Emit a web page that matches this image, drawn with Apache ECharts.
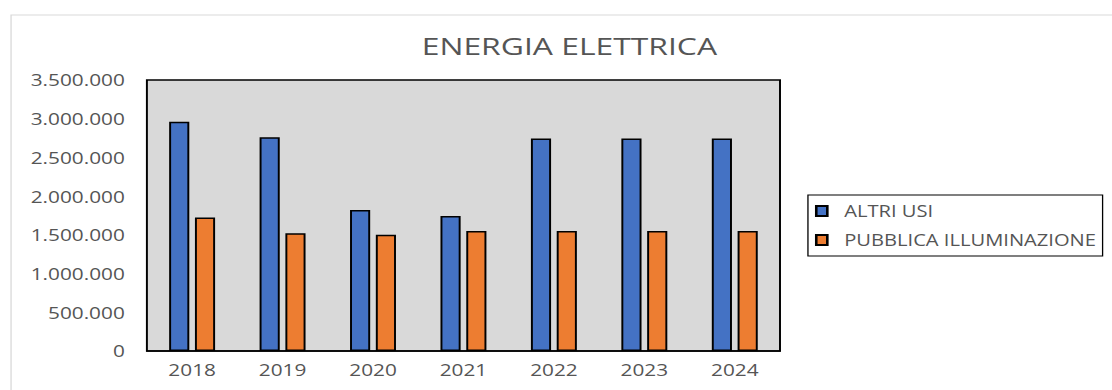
<!DOCTYPE html>
<html>
<head>
<meta charset="utf-8">
<script src="https://cdn.jsdelivr.net/npm/echarts@6/dist/echarts.min.js"></script>
<style>
  html, body { margin: 0; padding: 0; background: #fff; overflow: hidden; }
  #wrap { width: 1112px; height: 390px; overflow: hidden; position: relative; }
  /* the chart is laid out narrower and widened horizontally */
  #chart { width: 856px; height: 390px; transform: scaleX(1.3); transform-origin: 0 0; }
</style>
</head>
<body>
<div id="wrap"><div id="chart"></div></div>
<script>
const years = ['2018', '2019', '2020', '2021', '2022', '2023', '2024'];
const altriUsi = [2960000, 2760000, 1820000, 1745000, 2745000, 2745000, 2745000];
const pubblicaIlluminazione = [1725000, 1520000, 1500000, 1550000, 1550000, 1550000, 1550000];
const seriesNames = ['ALTRI USI', 'PUBBLICA ILLUMINAZIONE'];
const chartTitle = 'ENERGIA ELETTRICA';

const FONT = '"Open Sans", "DejaVu Sans", sans-serif';
const TEXT = '#555555';

function fmtThousands(v) {
  return String(v).replace(/\B(?=(\d{3})+(?!\d))/g, '.');
}

const chart = echarts.init(document.getElementById('chart'), null, { renderer: 'svg' });
chart.setOption({
  animation: false,
  backgroundColor: '#fff',
  textStyle: { fontFamily: FONT },
  graphic: [{
    type: 'rect',
    shape: { x: 8.5, y: 15, width: 900, height: 400 },
    style: { fill: 'none', stroke: '#d9d9d9', lineWidth: 1 },
    silent: true,
    z: -10
  }],
  title: {
    text: chartTitle,
    left: 433,
    textAlign: 'center',
    top: 28.5,
    textStyle: { fontFamily: FONT, fontSize: 24.5, fontWeight: 'normal', color: TEXT }
  },
  legend: {
    data: seriesNames,
    orient: 'vertical',
    left: 621.5,
    top: 195,
    padding: [6, 5, 6, 5.4],
    itemGap: 9,
    itemWidth: 8.5,
    itemHeight: 10,
    icon: 'rect',
    borderColor: '#000',
    borderWidth: 1,
    backgroundColor: '#fff',
    textStyle: { fontFamily: FONT, fontSize: 15.5, color: TEXT, lineHeight: 20, padding: [0, 0, 0, 8] }
  },
  grid: {
    left: 113, right: 256, top: 80, bottom: 39,
    show: true,
    backgroundColor: '#d9d9d9',
    borderColor: '#000',
    borderWidth: 1.5
  },
  xAxis: {
    type: 'category',
    data: years,
    axisLine: { show: true, lineStyle: { color: '#000', width: 1.5 } },
    axisTick: { show: false },
    axisLabel: { fontFamily: FONT, fontSize: 16, color: TEXT, margin: 11 }
  },
  yAxis: {
    type: 'value',
    min: 0,
    max: 3500000,
    interval: 500000,
    axisLine: { show: false },
    axisTick: { show: false },
    splitLine: { show: false },
    axisLabel: { fontFamily: FONT, fontSize: 16, color: TEXT, margin: 17, formatter: fmtThousands }
  },
  series: [
    {
      name: seriesNames[0],
      type: 'bar',
      data: altriUsi,
      barWidth: 15.5,
      barGap: '28%',
      itemStyle: { color: '#4472c4', borderColor: '#000', borderWidth: 1.5 }
    },
    {
      name: seriesNames[1],
      type: 'bar',
      data: pubblicaIlluminazione,
      barWidth: 15.5,
      barGap: '28%',
      itemStyle: { color: '#ed7d31', borderColor: '#000', borderWidth: 1.5 }
    }
  ]
});
</script>
</body>
</html>
